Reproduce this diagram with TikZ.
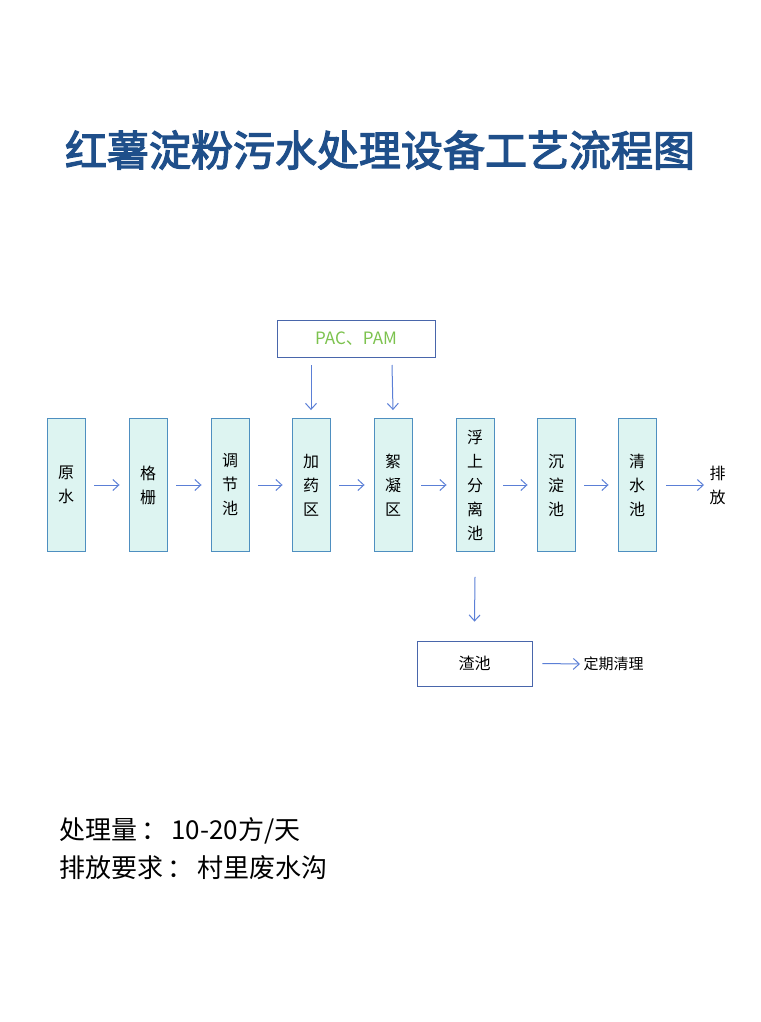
\documentclass[tikz,border=0pt]{standalone}
\usepackage{fontspec}
\setmainfont{Noto Sans CJK SC}
\newfontfamily\cjkt{Noto Sans CJK SC}[FakeBold=3]
\usetikzlibrary{arrows.meta}
\definecolor{bx}{HTML}{DDF4F1}
\definecolor{bd}{HTML}{4E8FC0}
\definecolor{ar}{HTML}{5B7FD6}
\definecolor{tt}{HTML}{1F4F8A}
\definecolor{gr}{HTML}{7CC24E}
\tikzset{
 proc/.style={draw=bd,fill=bx,line width=0.9pt,minimum width=38pt,minimum height=133pt,inner sep=0pt,align=center,font=\fontsize{16}{24}\selectfont},
 wbox/.style={draw=ar!80!black,line width=0.8pt,inner sep=0pt,align=center},
 arr/.style={draw=ar,line width=1pt,-{Straight Barb[length=6pt,width=11pt]}},
}
\begin{document}
\begin{tikzpicture}[x=1pt,y=-1pt]
\useasboundingbox (0,0) rectangle (760,1022);
\node[text=tt,font=\cjkt\fontsize{42}{46}\selectfont] (title) at (380,150) {红薯淀粉污水处理设备工艺流程图};
\foreach \n/\x/\t in {p1/66/原\\水, p2/148/格\\栅, p3/230/调\\节\\池, p4/311/加\\药\\区, p5/393/絮\\凝\\区, p6/475/浮\\上\\分\\离\\池, p7/556/沉\\淀\\池, p8/637/清\\水\\池}
 \node[proc] (\n) at (\x,485) {\t};
\node[anchor=west,font=\fontsize{16}{24}\selectfont,align=center] (out) at (706,485) {排\\放};
\foreach \a/\b in {p1/p2,p2/p3,p3/p4,p4/p5,p5/p6,p6/p7,p7/p8}
 \draw[arr] ([xshift=9pt]\a.east) -- ([xshift=-9pt]\b.west);
\draw[arr] ([xshift=10pt]p8.east) -- ([xshift=-2pt]out.west);
\node[wbox,minimum width=158pt,minimum height=37pt,text=gr,font=\fontsize{17}{20}\selectfont] (pac) at (356,338.5) {PAC、PAM};
\coordinate (c1) at (311,365); \coordinate (c2) at (392,365);
\draw[arr] (c1) -- ([yshift=8pt]p4.north);
\draw[arr] (c2) -- ([yshift=8pt]p5.north);
\node[wbox,minimum width=115pt,minimum height=45pt,font=\fontsize{16}{19}\selectfont] (slag) at (474.5,663.5) {渣池};
\draw[arr] ([yshift=-25pt]p6.south) -- ([yshift=19pt]slag.north);
\node[anchor=west,font=\fontsize{15}{18}\selectfont] (reg) at (580,664) {定期清理};
\draw[arr] ([xshift=10pt]slag.east) -- (reg.west);
\node[anchor=west,font=\fontsize{26}{30}\selectfont] (t1) at (56,831) {处理量\hspace{4pt}：\hspace{4pt}10-20方/天};
\node[anchor=west,font=\fontsize{26}{30}\selectfont] (t2) at (56,868) {排放要求\hspace{4pt}：\hspace{4pt}村里废水沟};
\end{tikzpicture}
\end{document}
